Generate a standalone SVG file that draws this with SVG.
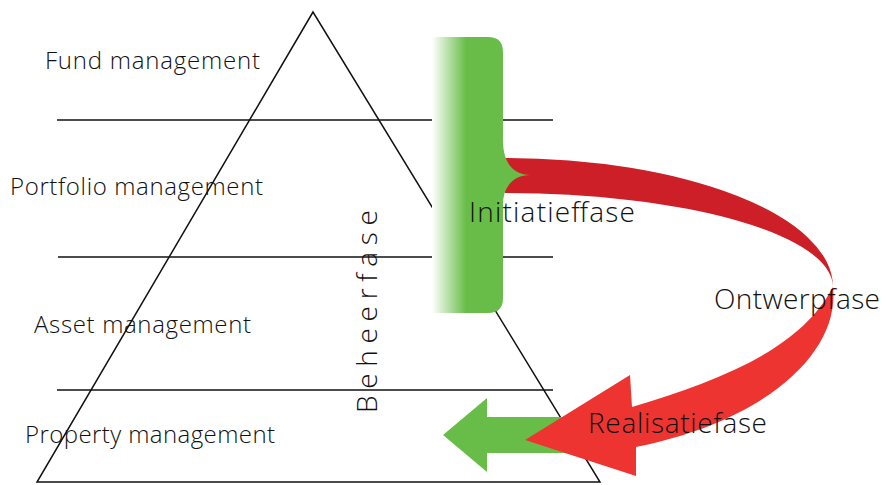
<svg xmlns="http://www.w3.org/2000/svg" width="886" height="485" viewBox="0 0 886 485">
  <defs>
    <linearGradient id="braceFill" x1="432" y1="0" x2="503" y2="0" gradientUnits="userSpaceOnUse">
      <stop offset="0" stop-color="#ffffff"/>
      <stop offset="0.48" stop-color="#68bd48"/>
      <stop offset="1" stop-color="#68bd48"/>
    </linearGradient>
  </defs>
  <style>
    .rule { stroke: #111; stroke-width: 1.5; fill: none; }
    .label { font-family: "Open Sans", "Noto Sans", sans-serif; font-weight: 300; fill: #111; }
    .layer { font-size: 24px; }
    .phase { font-size: 28px; }
  </style>

  <rect width="886" height="485" fill="#ffffff"/>

  <!-- pyramid with layer dividers -->
  <g id="pyramid">
    <polygon class="rule" points="313,12 37,482 600,482"/>
    <line class="rule" x1="57" y1="120" x2="553" y2="120"/>
    <line class="rule" x1="58" y1="257" x2="553" y2="257"/>
    <line class="rule" x1="57" y1="390" x2="553" y2="390"/>
  </g>

  <!-- layer labels -->
  <g id="fund-management"><text class="label layer" x="45" y="69" textLength="215" lengthAdjust="spacing">Fund management</text></g>
  <g id="portfolio-management"><text class="label layer" x="10" y="195" textLength="253" lengthAdjust="spacing">Portfolio management</text></g>
  <g id="asset-management"><text class="label layer" x="34" y="333" textLength="217" lengthAdjust="spacing">Asset management</text></g>
  <g id="property-management"><text class="label layer" x="25" y="443" textLength="250" lengthAdjust="spacing">Property management</text></g>

  <g id="beheerfase">
    <text class="label phase" transform="translate(377,413) rotate(-90)" x="0" y="0" textLength="203" lengthAdjust="spacing">Beheerfase</text>
  </g>

  <!-- cycle arrows -->
  <g id="connectors">
    <path id="green-arrow" fill="#68bd48" d="M443,435 L487,398 L487,417 L580,417 L580,453 L487,453 L487,472 Z"/>
    <path id="arc-upper" fill="#cd1f27" d="M505,158 A328,129 0 0 1 833,287 A328,94 0 0 0 505,193 Z"/>
    <path id="arc-lower" fill="#ee3431" d="M833,287 C840,350 770,420 636,447 L636,476 L525,440 L630,375 L632,407 C720,380 800,350 833,287 Z"/>
  </g>

  <!-- initiation brace -->
  <g id="initiatieffase">
    <path fill="url(#braceFill)" d="M432,37 H488 Q503,37 503,52 V140 C503,165 515,175 530,175 C515,175 503,185 503,205 V298 Q503,313 488,313 H432 Z"/>
    <text class="label phase" x="469" y="222" textLength="166" lengthAdjust="spacing">Initiatieffase</text>
  </g>

  <g id="ontwerpfase"><text class="label phase" x="714" y="309" textLength="166" lengthAdjust="spacing">Ontwerpfase</text></g>
  <g id="realisatiefase"><text class="label phase" x="588" y="433" textLength="179" lengthAdjust="spacing">Realisatiefase</text></g>
</svg>
